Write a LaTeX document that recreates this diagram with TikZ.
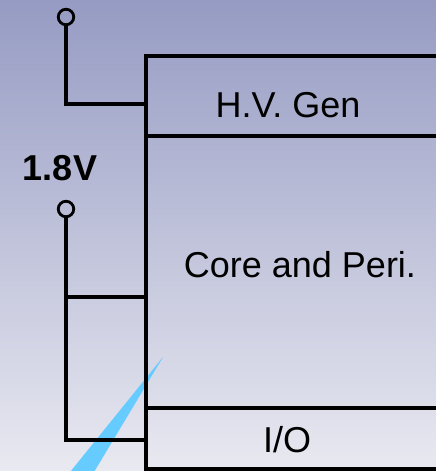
\documentclass[tikz,border=0pt]{standalone}
\usepackage{fontspec}
\setmainfont{Liberation Sans}
\usetikzlibrary{positioning}
\definecolor{sfondoalto}{HTML}{969BC3}
\definecolor{sfondobasso}{HTML}{E9E9F1}
\definecolor{raggio}{HTML}{66CCFF}

\begin{document}
\begin{tikzpicture}[x=1pt, y=-1pt, line join=miter,
    blocco/.style={draw, line width=3.5pt, minimum width=340pt, inner sep=0pt, outer sep=0pt, anchor=north west},
    filo/.style={line width=3.3pt},
    morsetto/.style={circle, draw, line width=2.8pt, minimum size=15.5pt, inner sep=0pt},
    etichetta/.style={font=\fontsize{36}{40}\selectfont}]

    % Sfondo
    \shade[top color=sfondoalto, bottom color=sfondobasso] (0,0) rectangle (436,471);
    \useasboundingbox (0,0) rectangle (436,471);
    \clip (0,0) rectangle (436,471);

    % Raggio azzurro
    \fill[raggio] (163,357) -- (62,482) -- (88,482) -- cycle;

    % Blocchi del chip
    \node[blocco, minimum height=80pt] (hv) at (146,56) {};
    \node[blocco, minimum height=272pt] (core) at (hv.south west) {};
    \node[blocco, minimum height=61pt] (io) at (core.south west) {};

    % Morsetti e fili
    \node[morsetto] (mors1) at (66,17) {};
    \node[morsetto] (mors2) at (66,209) {};
    \coordinate (ingressoHV) at (146,104);
    \coordinate (ingressoCore) at (146,297);
    \coordinate (ingressoIO) at (146,440);
    \draw[filo] (mors1) |- (ingressoHV);
    \draw[filo] (mors2) |- (ingressoIO);
    \draw[filo] (mors2 |- ingressoCore) -- (ingressoCore);

    % Etichette
    \node[etichetta, font=\fontsize{36}{40}\selectfont\bfseries] (tensione) at (60,168) {1.8V};
    \node[etichetta] (testoHV) at (288,105) {H.V. Gen};
    \node[etichetta] (testoCore) at (300,265) {Core and Peri.};
    \node[etichetta] (testoIO) at (287,440) {I/O};

\end{tikzpicture}
\end{document}
